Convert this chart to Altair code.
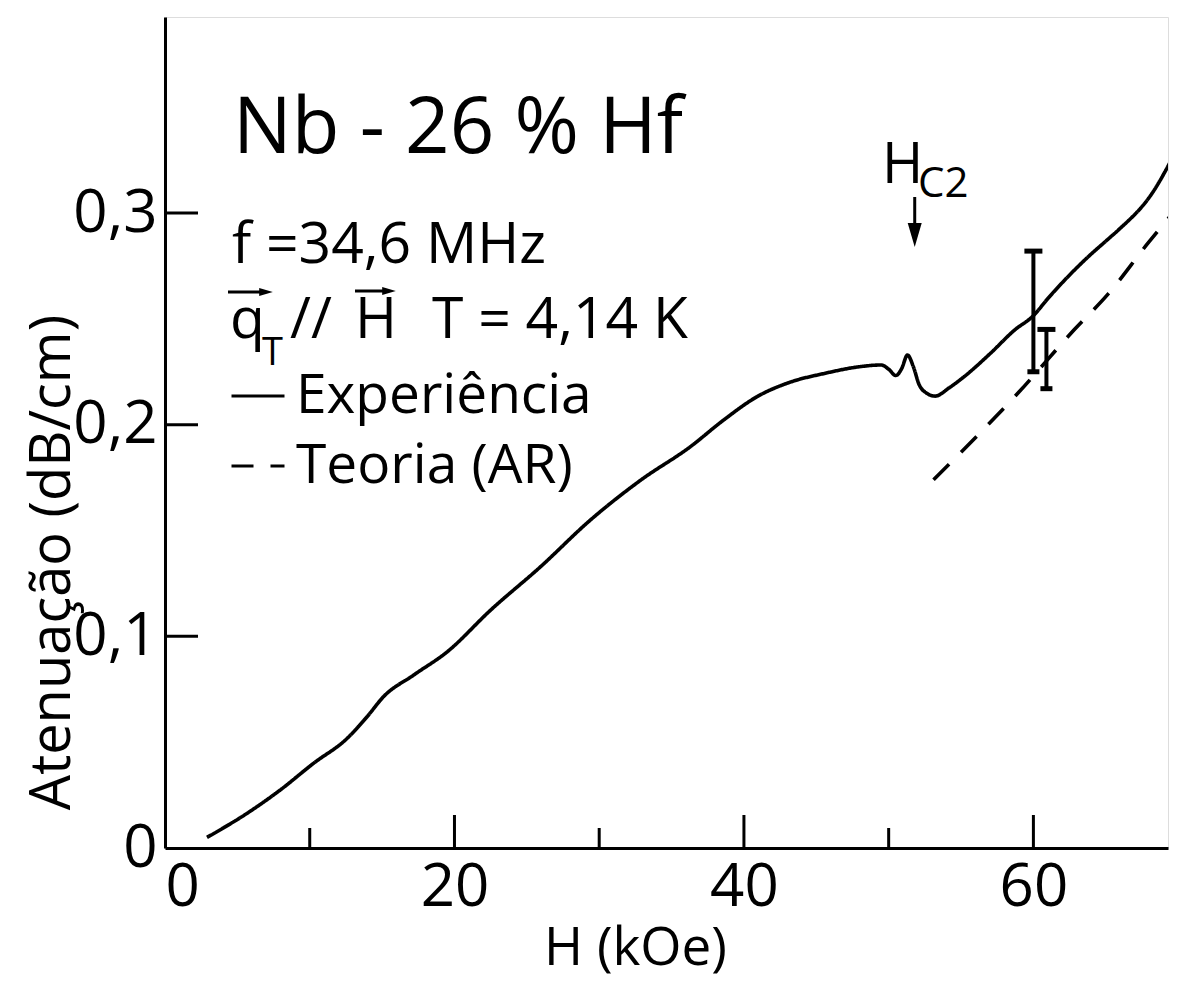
import altair as alt
import pandas as pd

FONT = "Open Sans"

# Experimental curve (H in kOe, attenuation in dB/cm)
h_exp = [2.9, 5.65, 7.96, 10.26, 12.57, 13.96, 15.1, 17.18, 19.5, 22.5, 25.95, 29.4,
         32.87, 36.3, 38.6, 40.9, 43.25, 45.56, 47.9, 49.5, 50.0, 50.5, 50.9, 51.3,
         51.7, 52.1, 52.6, 53.2, 54.2, 55.2, 57.0, 58.7, 60.0, 61.0, 63.55, 65.2,
         65.86, 68.2, 70.0]
a_exp = [0.005, 0.0163, 0.0274, 0.040, 0.0517, 0.062, 0.0715, 0.0817, 0.0927, 0.1124,
         0.1329, 0.155, 0.1738, 0.1896, 0.2022, 0.2132, 0.2202, 0.2242, 0.2273, 0.2282,
         0.2262, 0.2232, 0.2265, 0.2329, 0.2275, 0.219, 0.215, 0.2135, 0.2175, 0.2226,
         0.2335, 0.2447, 0.2515, 0.2596, 0.2778, 0.2879, 0.2919, 0.3093, 0.3313]

# Theory (AR), dashed
h_teo = [53.1, 59.0, 62.8, 65.2, 67.9, 70.0]
a_teo = [0.174, 0.2154, 0.2447, 0.262, 0.2856, 0.303]

series = ["Experiência", "Teoria (AR)"]

# Error bars
err_h = [60.0, 60.9]
err_lo = [0.225, 0.217]
err_hi = [0.282, 0.245]

# Tick values
x_labels = [0, 20, 40, 60]
x_major = [20, 40, 60]
x_minor = [10, 30, 50]
y_ticks = [0.1, 0.2, 0.3]
y_labels = [0, 0.1, 0.2, 0.3]

hc2 = 51.8

W, H = 1003, 831
XMAX, YMAX = 69.3, 0.3926

df = pd.concat([
    pd.DataFrame({"H": h_exp, "A": a_exp, "serie": series[0]}),
    pd.DataFrame({"H": h_teo, "A": a_teo, "serie": series[1]}),
])

xscale = alt.Scale(domain=[0, XMAX], nice=False, zero=False)
yscale = alt.Scale(domain=[0, YMAX], nice=False, zero=False)

lines = alt.Chart(df).mark_line(color="black", strokeWidth=3.6, interpolate="monotone", clip=True).encode(
    x=alt.X("H:Q", scale=xscale, axis=alt.Axis(
        values=x_labels, format="d", ticks=False, grid=False, domain=True,
        domainColor="black", domainWidth=3,
        labelFont=FONT, labelFontSize=60, labelColor="black", labelPadding=10,
        title="H (kOe)", titleFont=FONT, titleFontSize=53, titleFontWeight="normal",
        titleColor="black", titleX=470, titleY=116, titleAlign="center",
        titleBaseline="alphabetic")),
    y=alt.Y("A:Q", scale=yscale, axis=alt.Axis(
        values=y_labels, ticks=False, grid=False, domain=True,
        domainColor="black", domainWidth=3,
        labelExpr="datum.value == 0 ? '0' : replace(format(datum.value, '.1f'), '.', ',')",
        labelFont=FONT, labelFontSize=60, labelColor="black", labelPadding=8,
        labelBaseline="middle",
        title="Atenuação (dB/cm)", titleFont=FONT, titleFontSize=56, titleFontWeight="normal",
        titleColor="black", titleAngle=270, titleX=-113, titleY=545,
        titleAlign="center", titleBaseline="middle")),
    strokeDash=alt.StrokeDash("serie:N", scale=alt.Scale(domain=series, range=[[1, 0], [22, 17]]),
                              legend=alt.Legend(
                                  orient="none", legendX=65, legendY=351, title=None,
                                  symbolType="stroke", symbolSize=2809, symbolStrokeWidth=3,
                                  symbolStrokeColor="black",
                                  labelFont=FONT, labelFontSize=55, labelColor="black",
                                  labelLimit=0, labelOffset=10, rowPadding=14, padding=0)),
)

ticks_df_xM = pd.DataFrame({"v": x_major})
ticks_df_xm = pd.DataFrame({"v": x_minor})
ticks_df_y = pd.DataFrame({"v": y_ticks})

xt_major = alt.Chart(ticks_df_xM).mark_rule(color="black", strokeWidth=3).encode(
    x=alt.X("v:Q", scale=xscale), y=alt.value(H), y2=alt.value(H - 33))
xt_minor = alt.Chart(ticks_df_xm).mark_rule(color="black", strokeWidth=3).encode(
    x=alt.X("v:Q", scale=xscale), y=alt.value(H), y2=alt.value(H - 20))
yt = alt.Chart(ticks_df_y).mark_rule(color="black", strokeWidth=3).encode(
    y=alt.Y("v:Q", scale=yscale), x=alt.value(0), x2=alt.value(33))

err_df = pd.DataFrame({"H": err_h, "lo": err_lo, "hi": err_hi})
err_rule = alt.Chart(err_df).mark_rule(color="black", strokeWidth=4).encode(
    x=alt.X("H:Q", scale=xscale), y=alt.Y("lo:Q", scale=yscale), y2="hi:Q")
err_top = alt.Chart(err_df).mark_tick(color="black", thickness=5, size=18, opacity=1,
                                      orient="horizontal").encode(
    x=alt.X("H:Q", scale=xscale), y=alt.Y("hi:Q", scale=yscale))
err_bot = alt.Chart(err_df).mark_tick(color="black", thickness=5, size=12, opacity=1,
                                      orient="horizontal").encode(
    x=alt.X("H:Q", scale=xscale), y=alt.Y("lo:Q", scale=yscale))

# Hc2 arrow
hc2_df = pd.DataFrame({"H": [hc2]})
hc2_shaft = alt.Chart(hc2_df).mark_rule(color="black", strokeWidth=3).encode(
    x=alt.X("H:Q", scale=xscale), y=alt.value(180), y2=alt.value(218))
hc2_head = alt.Chart(hc2_df).mark_point(shape="M-1,-1.7L1,-1.7L0,1.7Z", filled=True, size=196,
                                        color="black", opacity=1).encode(
    x=alt.X("H:Q", scale=xscale), y=alt.value(218))


def label(txt, x, y, size):
    return alt.Chart(pd.DataFrame({"t": [txt]})).mark_text(
        font=FONT, fontSize=size, color="black", align="left", baseline="alphabetic").encode(
        x=alt.value(x), y=alt.value(y), text="t:N")


texts = [
    label("Nb - 26 % Hf", 68, 136, 78),
    label("f =34,6 MHz", 67, 246, 57),
    label("q", 65, 321, 57),
    label("T", 97, 348, 38),
    label("//", 125, 321, 57),
    label("H", 190, 321, 57),
    label("T = 4,14 K", 267, 321, 57),
    label("H", 717, 166, 56),
    label("C2", 753, 180, 42),
]

# vector arrows over q and H
arrow_q = alt.Chart(pd.DataFrame({"k": ["q"]})).mark_rule(color="black", strokeWidth=3).encode(
    x=alt.value(63), x2=alt.value(99), y=alt.value(275))
arrow_q_head = alt.Chart(pd.DataFrame({"k": ["q"]})).mark_point(
    shape="M-1.7,-1L1.7,0L-1.7,1Z", filled=True, size=64, color="black", opacity=1).encode(
    x=alt.value(101), y=alt.value(275))
arrow_h = alt.Chart(pd.DataFrame({"k": ["H"]})).mark_rule(color="black", strokeWidth=3).encode(
    x=alt.value(190), x2=alt.value(222), y=alt.value(274))
arrow_h_head = alt.Chart(pd.DataFrame({"k": ["H"]})).mark_point(
    shape="M-1.7,-1L1.7,0L-1.7,1Z", filled=True, size=64, color="black", opacity=1).encode(
    x=alt.value(224), y=alt.value(274))

chart = alt.layer(
    lines, xt_major, xt_minor, yt, err_rule, err_top, err_bot, hc2_shaft, hc2_head,
    arrow_q, arrow_q_head, arrow_h, arrow_h_head, *texts
).properties(
    width=W, height=H,
    autosize=alt.AutoSizeParams(type="none"),
    padding={"left": 157, "top": 9, "right": 2, "bottom": 136},
).configure_view(stroke="black", strokeWidth=3).configure(background="white")

chart.save("out.html", embed_options={"renderer": "svg", "actions": False})
